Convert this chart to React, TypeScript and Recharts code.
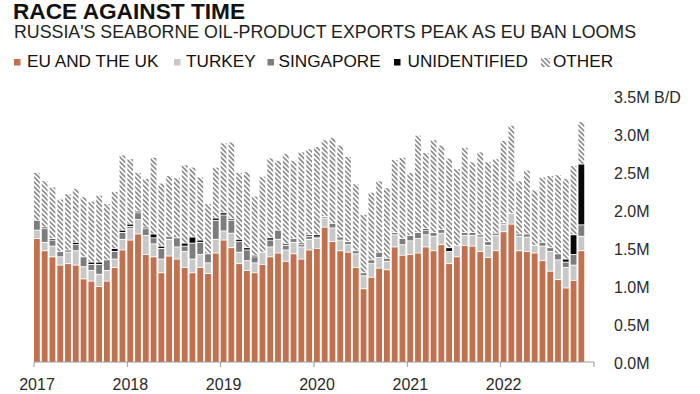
import React from 'react';
import { BarChart, Bar, XAxis, YAxis } from 'recharts';

// Monthly, Jan 2017 .. Nov 2022 (million barrels per day)
const eu = [
  1.63, 1.47, 1.39, 1.28, 1.30, 1.28, 1.10, 1.07, 1.00, 1.07, 1.25, 1.48,
  1.61, 1.69, 1.42, 1.39, 1.18, 1.40, 1.36, 1.25, 1.18, 1.25, 1.17, 1.44,
  1.61, 1.51, 1.30, 1.21, 1.18, 1.29, 1.39, 1.44, 1.33, 1.43, 1.36, 1.48,
  1.50, 1.78, 1.59, 1.47, 1.45, 1.25, 0.97, 1.12, 1.24, 1.22, 1.52, 1.41,
  1.42, 1.44, 1.52, 1.47, 1.55, 1.30, 1.39, 1.54, 1.53, 1.46, 1.38, 1.47,
  1.72, 1.82, 1.47, 1.46, 1.44, 1.34, 1.20, 1.09, 0.98, 1.08, 1.47,
];
const turkey = [
  0.11, 0.11, 0.14, 0.11, 0.15, 0.19, 0.16, 0.14, 0.16, 0.14, 0.11, 0.14,
  0.15, 0.19, 0.25, 0.17, 0.18, 0.22, 0.16, 0.21, 0.18, 0.17, 0.14, 0.18,
  0.12, 0.19, 0.15, 0.13, 0.13, 0.16, 0.13, 0.18, 0.15, 0.15, 0.16, 0.14,
  0.13, 0.12, 0.18, 0.14, 0.10, 0.18, 0.17, 0.18, 0.14, 0.11, 0.16, 0.14,
  0.18, 0.19, 0.16, 0.19, 0.15, 0.16, 0.15, 0.13, 0.14, 0.19, 0.16, 0.20,
  0.10, 0.14, 0.19, 0.19, 0.10, 0.19, 0.26, 0.26, 0.27, 0.20, 0.19,
];
const singapore = [
  0.13, 0.18, 0.08, 0.07, 0.03, 0.08, 0.13, 0.08, 0.13, 0.14, 0.10, 0.09,
  0.03, 0.09, 0.09, 0.08, 0.14, 0.04, 0.12, 0.07, 0.21, 0.16, 0.12, 0.25,
  0.21, 0.17, 0.14, 0.14, 0.08, 0.00, 0.09, 0.12, 0.06, 0.05, 0.03, 0.04,
  0.02, 0.02, 0.06, 0.04, 0.04, 0.04, 0.04, 0.05, 0.07, 0.04, 0.03, 0.08,
  0.07, 0.08, 0.06, 0.05, 0.05, 0.00, 0.00, 0.04, 0.04, 0.03, 0.05, 0.03,
  0.02, 0.00, 0.03, 0.04, 0.00, 0.05, 0.05, 0.08, 0.07, 0.14, 0.15,
];
const unidentified = [
  0.00, 0.02, 0.02, 0.00, 0.00, 0.03, 0.00, 0.03, 0.03, 0.00, 0.04, 0.03,
  0.03, 0.02, 0.02, 0.05, 0.03, 0.00, 0.00, 0.04, 0.08, 0.03, 0.00, 0.03,
  0.03, 0.02, 0.03, 0.03, 0.02, 0.00, 0.03, 0.00, 0.02, 0.00, 0.02, 0.02,
  0.03, 0.00, 0.00, 0.00, 0.00, 0.00, 0.00, 0.00, 0.00, 0.00, 0.00, 0.00,
  0.00, 0.00, 0.02, 0.00, 0.00, 0.05, 0.00, 0.00, 0.00, 0.00, 0.00, 0.00,
  0.00, 0.00, 0.00, 0.00, 0.00, 0.00, 0.00, 0.00, 0.04, 0.26, 0.80,
];
const other = [
  0.63, 0.61, 0.68, 0.69, 0.74, 0.71, 0.79, 0.80, 0.88, 0.74, 0.75, 0.99,
  0.86, 0.51, 0.64, 1.01, 0.83, 0.80, 0.79, 1.03, 0.92, 0.83, 0.66, 0.67,
  0.92, 1.01, 0.88, 1.00, 0.78, 1.00, 1.05, 0.92, 1.19, 1.03, 1.20, 1.13,
  1.16, 1.01, 1.13, 1.21, 1.12, 0.88, 0.77, 0.89, 0.94, 0.93, 0.96, 1.07,
  0.83, 1.28, 1.00, 1.22, 1.11, 1.18, 1.01, 1.12, 0.93, 1.09, 1.05, 0.98,
  1.08, 1.16, 0.70, 0.84, 0.73, 0.86, 0.95, 1.04, 1.06, 0.91, 0.56,
];

const yearLabels = ['2017', '2018', '2019', '2020', '2021', '2022'];
const yTickLabels = ['0.0M', '0.5M', '1.0M', '1.5M', '2.0M', '2.5M', '3.0M', '3.5M B/D'];
const legendItems = [
  { key: 'eu', label: 'EU AND THE UK' },
  { key: 'turkey', label: 'TURKEY' },
  { key: 'singapore', label: 'SINGAPORE' },
  { key: 'unidentified', label: 'UNIDENTIFIED' },
  { key: 'other', label: 'OTHER' },
];

const COLORS: Record<string, string> = {
  eu: '#c2704d',
  turkey: '#c8c8c8',
  singapore: '#7d7d7d',
  unidentified: '#080808',
  other: 'url(#hatch)',
};

const data = eu.map((v, i) => ({
  x: i + 0.5,
  eu: v,
  turkey: turkey[i],
  singapore: singapore[i],
  unidentified: unidentified[i],
  other: other[i],
}));

const FONT = '"Liberation Sans", Arial, Helvetica, sans-serif';

const Seg = (props: any) => {
  const { x, y, width, height, fill } = props;
  if (!height || height <= 1.1) return <g />;
  return <rect x={x} y={y + 0.9} width={Math.max(width - 1.2, 0)} height={height - 0.9} fill={fill} />;
};

const XTick = (props: any) => {
  const { x, payload } = props;
  const idx = Math.round(payload.value / 12);
  const label = yearLabels[idx] || '';
  return (
    <text x={x + 3} y={390} textAnchor="middle" fontSize={16} fill="#2a2a2a" fontFamily={FONT}>
      {label}
    </text>
  );
};

const YTick = (props: any) => {
  const { y, payload } = props;
  const idx = Math.round(payload.value / 0.5);
  return (
    <text x={614} y={y + 7} textAnchor="start" fontSize={16} fill="#2a2a2a" fontFamily={FONT}>
      {yTickLabels[idx]}
    </text>
  );
};

const legendX = [
  { sq: 14, tx: 27 },
  { sq: 174, tx: 186 },
  { sq: 267.5, tx: 278.5 },
  { sq: 394, tx: 407.5 },
  { sq: 541, tx: 553 },
];

export default function App() {
  return (
    <div style={{ position: 'relative', width: 700, height: 394, background: '#fff', overflow: 'hidden' }}>
      <style>{'body{margin:0;background:#fff;}'}</style>
      <svg width={0} height={0} style={{ position: 'absolute' }}>
        <defs>
          <pattern id="hatch" patternUnits="userSpaceOnUse" width={3.4} height={3.4} patternTransform="rotate(-45)">
            <rect x={0} y={0} width={3.4} height={3.4} fill="#ffffff" />
            <rect x={0} y={0} width={1.7} height={3.4} fill="#8e8e8e" />
          </pattern>
        </defs>
      </svg>
      <div style={{ position: 'absolute', left: 0, top: 0 }}>
        <BarChart width={700} height={394} data={data} margin={{ top: 96, right: 0, bottom: 2, left: 34 }}>
          <XAxis
            dataKey="x"
            type="number"
            domain={[0, 72]}
            ticks={[0, 12, 24, 36, 48, 60, 72]}
            allowDataOverflow
            interval={0}
            height={30}
            tickSize={5}
            axisLine={{ stroke: '#9a9a9a' }}
            tickLine={{ stroke: '#9a9a9a' }}
            tick={<XTick />}
          />
          <YAxis
            orientation="right"
            type="number"
            domain={[0, 3.5]}
            ticks={[0, 0.5, 1, 1.5, 2, 2.5, 3, 3.5]}
            interval={0}
            width={106}
            axisLine={false}
            tickLine={false}
            tick={<YTick />}
          />
          {legendItems.map((it) => (
            <Bar
              key={it.key}
              dataKey={it.key}
              stackId="a"
              fill={COLORS[it.key]}
              barSize={560 / 72}
              shape={<Seg />}
              isAnimationActive={false}
            />
          ))}
        </BarChart>
      </div>
      <svg width={700} height={80} style={{ position: 'absolute', left: 0, top: 0, pointerEvents: 'none' }}>
        <text x={13} y={18.5} fontSize={22.5} fontWeight="bold" fill="#111" fontFamily={FONT} textLength={232} lengthAdjust="spacingAndGlyphs">
          RACE AGAINST TIME
        </text>
        <text x={14} y={37.5} fontSize={17.8} fill="#222" fontFamily={FONT} textLength={622} lengthAdjust="spacingAndGlyphs">
          RUSSIA'S SEABORNE OIL-PRODUCT EXPORTS PEAK AS EU BAN LOOMS
        </text>
        {legendItems.map((it, i) => (
          <g key={it.key}>
            {it.key === 'other' ? (
              <rect x={legendX[i].sq} y={58} width={9} height={9} fill="url(#hatch)" />
            ) : (
              <rect x={legendX[i].sq} y={59} width={6.5} height={6.5} fill={COLORS[it.key]} />
            )}
            <text x={legendX[i].tx} y={66.7} fontSize={17.2} fill="#111" fontFamily={FONT}>
              {it.label}
            </text>
          </g>
        ))}
      </svg>
    </div>
  );
}
